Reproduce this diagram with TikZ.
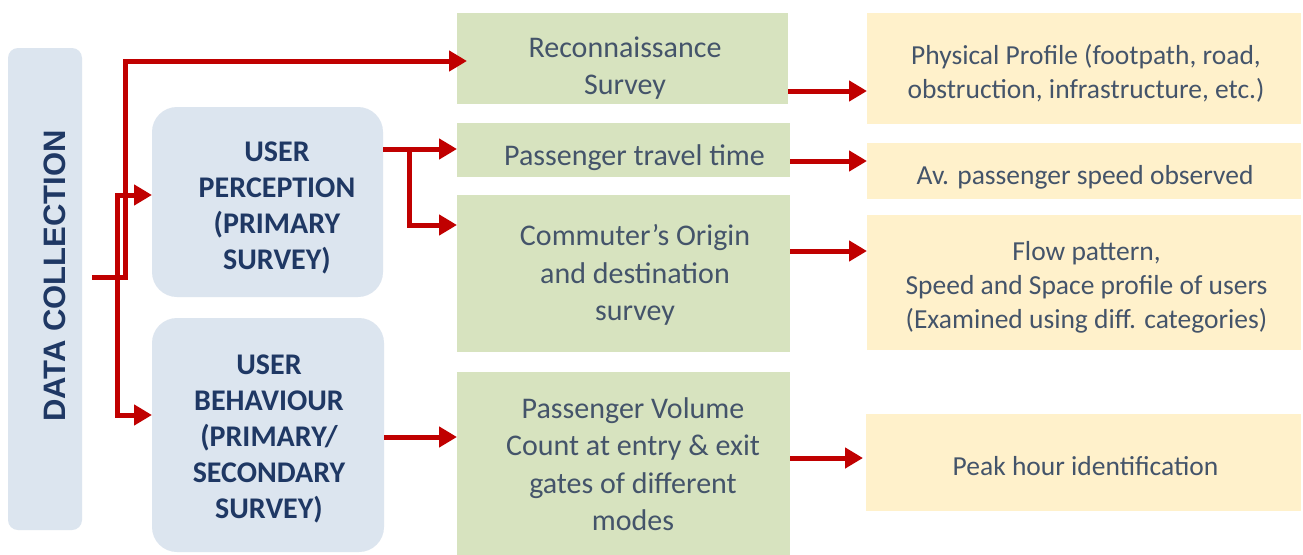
\documentclass[tikz,border=0pt]{standalone}
\usepackage{fontspec}
\setmainfont{Carlito}
\newfontfamily\headfont{Liberation Sans}
\usetikzlibrary{arrows.meta}
\definecolor{dcblue}{HTML}{DCE5EF}
\definecolor{stepgreen}{HTML}{D7E3BF}
\definecolor{outyellow}{HTML}{FFF1CB}
\definecolor{arrowred}{HTML}{C00000}
\definecolor{navy}{HTML}{1F3864}
\definecolor{slate}{HTML}{44546A}

\begin{document}
\begin{tikzpicture}[x=1pt,y=-1pt,
  panel/.style={anchor=north west, inner sep=0pt, outer sep=0pt, draw=none},
  userbox/.style={panel, fill=dcblue, rounded corners=25pt},
  greenbox/.style={panel, fill=stepgreen},
  yellowbox/.style={panel, fill=outyellow},
  usertext/.style={text=navy, align=center, inner sep=0pt,
    font=\bfseries\fontsize{30}{36}\selectfont},
  greentext/.style={text=slate, align=center, inner sep=0pt,
    font=\fontsize{30}{37.5}\selectfont},
  yellowtext/.style={text=slate, align=center, inner sep=0pt,
    font=\fontsize{27.5}{34}\selectfont},
  arr/.style={draw=arrowred, line width=5pt,
    -{Triangle[length=18pt,width=20pt]}}
]
% canvas
\fill[white] (0,0) rectangle (1303,554);
\useasboundingbox (0,0) rectangle (1303,554);

% source column
\node[panel, fill=dcblue, rounded corners=10pt, minimum width=74pt,
  minimum height=482pt] (dc) at (8,48) {};
\node[rotate=90, text=navy, inner sep=0pt,
  font=\headfont\bfseries\fontsize{31}{36}\selectfont] (dc-t) at (55,276)
  {DATA COLLECTION};

% survey types
\node[userbox, minimum width=231pt, minimum height=190pt] (up) at (152,107) {};
\node[usertext] (up-t) at (277,208) {USER\\PERCEPTION\\(PRIMARY\\SURVEY)};
\node[userbox, minimum width=232pt, minimum height=234pt] (ub) at (152,318) {};
\node[usertext] (ub-t) at (269,439) {USER\\BEHAVIOUR\\(PRIMARY/\\SECONDARY\\SURVEY)};

% surveys carried out
\node[greenbox, minimum width=331pt, minimum height=91pt] (recon) at (457,13) {};
\node[greentext] (recon-t) at (625,68) {Reconnaissance\\Survey};
\node[greenbox, minimum width=333pt, minimum height=54pt] (ptt) at (457,123) {};
\node[greentext] (ptt-t) at (634.5,158) {Passenger travel time};
\node[greenbox, minimum width=333pt, minimum height=157pt] (cod) at (457,195) {};
\node[greentext] (cod-t) at (635,275) {Commuter’s Origin\\and destination\\survey};
\node[greenbox, minimum width=333pt, minimum height=184pt] (pv) at (457,372) {};
\node[greentext] (pv-t) at (633,464) {Passenger Volume\\Count at entry \& exit\\gates of different\\modes};

% outcomes
\node[yellowbox, minimum width=434pt, minimum height=111pt] (phys) at (867,13) {};
\node[yellowtext] (phys-t) at (1086,73) {Physical Profile (footpath, road,\\obstruction, infrastructure, etc.)};
\node[yellowbox, minimum width=434pt, minimum height=56pt] (av) at (867,143) {};
\node[yellowtext] (av-t) at (1085,177) {Av. passenger speed observed};
\node[yellowbox, minimum width=434pt, minimum height=135pt] (flow) at (867,215) {};
\node[yellowtext] (flow-t) at (1086.5,287.5) {Flow pattern,\\Speed and Space profile of users\\(Examined using diff. categories)};
\node[yellowbox, minimum width=435pt, minimum height=97pt] (peak) at (866,414) {};
\node[yellowtext] (peak-t) at (1085.5,466) {Peak hour identification};

% connectors from the source column
\coordinate (dcout) at ([xshift=10pt,yshift=12pt]dc.east);
\draw[arr] (dcout) -- ([xshift=33pt]dcout) |- ([xshift=10pt,yshift=-2.5pt]recon.west);
\draw[arr] (dcout) -- ([xshift=25pt]dcout) |- ([yshift=7pt]up.west);
\draw[arr] ([xshift=25pt]dcout) |- ([yshift=20pt]ub.west);

% connectors from the survey types
\coordinate (upout) at ([yshift=53pt]up.east);
\draw[arr] (upout) -- (upout -| ptt.west);
\draw[arr] ([xshift=26pt]upout) |- ([yshift=48.5pt]cod.west);
\coordinate (ubout) at ([yshift=-2pt]ub.east);
\draw[arr] (ubout) -- (ubout -| pv.west);

% connectors to the outcomes
\coordinate (r1) at ([yshift=-32.5pt]recon.east);
\draw[arr] (r1) -- (r1 -| phys.west);
\coordinate (r2) at ([yshift=-11pt]ptt.east);
\draw[arr] (r2) -- (r2 -| av.west);
\coordinate (r3) at ([yshift=22.5pt]cod.east);
\draw[arr] (r3) -- (r3 -| flow.west);
\coordinate (r4) at ([yshift=6pt]pv.east);
\draw[arr] (r4) -- ([xshift=-3pt]r4 -| peak.west);
\end{tikzpicture}
\end{document}
